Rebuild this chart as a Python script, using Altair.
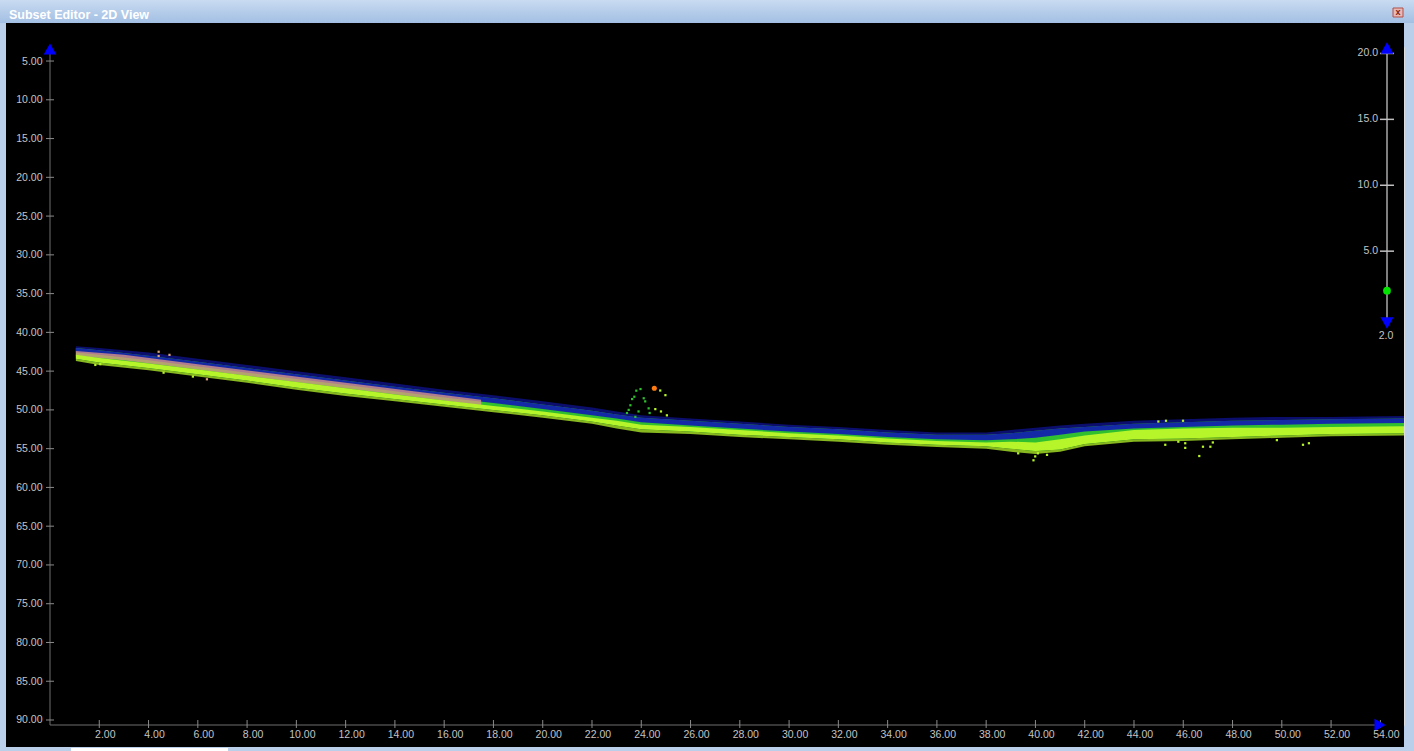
import altair as alt
import pandas as pd

# ---------------- values ----------------
# sounding band (x = distance, depth values), read at stations
x_station = [1.05, 2, 4, 6, 8, 10, 12, 14, 16, 18, 20, 22, 23, 24, 26, 28, 30, 32, 34, 36, 38, 39, 40, 41, 42, 44, 46, 48, 50, 52, 55]
fringe_top = [41.8, 42.0, 42.6, 43.4, 44.2, 45.0, 45.8, 46.6, 47.4, 48.1, 48.9, 49.7, 50.2, 50.7, 51.1, 51.5, 51.9, 52.2, 52.6, 52.9, 52.9, 52.6, 52.3, 52.0, 51.8, 51.4, 51.2, 51.0, 50.9, 50.9, 50.8]
blue_top = [42.0, 42.3, 43.0, 43.8, 44.6, 45.4, 46.2, 47.0, 47.8, 48.5, 49.3, 50.1, 50.6, 51.0, 51.4, 51.8, 52.2, 52.5, 52.9, 53.2, 53.2, 53.0, 52.7, 52.4, 52.2, 51.8, 51.6, 51.4, 51.3, 51.2, 51.1]
blue_bottom = [42.6, 42.9, 43.6, 44.4, 45.2, 46.0, 46.8, 47.6, 48.4, 49.1, 49.9, 50.7, 51.1, 51.6, 52.0, 52.4, 52.8, 53.1, 53.5, 53.8, 53.9, 53.8, 53.6, 53.2, 52.8, 52.4, 52.2, 52.0, 51.9, 51.8, 51.7]
yellow_top = [42.9, 43.3, 44.0, 44.8, 45.6, 46.4, 47.2, 48.0, 48.8, 49.5, 50.2, 51.0, 51.4, 51.9, 52.2, 52.6, 53.0, 53.3, 53.7, 54.0, 54.2, 54.1, 54.2, 53.8, 53.3, 52.6, 52.4, 52.3, 52.3, 52.2, 52.1]
yellow_bottom = [43.4, 43.9, 44.6, 45.4, 46.2, 47.1, 47.9, 48.6, 49.3, 50.0, 50.7, 51.5, 52.0, 52.5, 52.8, 53.2, 53.5, 53.8, 54.2, 54.5, 54.7, 55.0, 55.3, 55.1, 54.4, 53.8, 53.7, 53.5, 53.3, 53.1, 53.0]
fringe_bottom = [43.7, 44.2, 44.9, 45.7, 46.5, 47.4, 48.2, 48.9, 49.6, 50.3, 51.0, 51.8, 52.4, 52.9, 53.1, 53.5, 53.8, 54.1, 54.5, 54.8, 55.0, 55.4, 55.7, 55.4, 54.7, 54.1, 54.0, 53.8, 53.6, 53.4, 53.3]

pink_x = [1.05, 3, 6, 9, 12, 15, 17.5]
pink_top = [42.4, 42.9, 44.1, 45.3, 46.5, 47.7, 48.7]
pink_bottom = [43.0, 43.6, 44.8, 46.0, 47.2, 48.4, 49.4]

spike_x = [23.80, 23.97, 23.72, 23.63, 23.56, 23.49, 23.42, 24.10, 24.16, 24.30, 24.34, 23.89, 23.76]
spike_d = [47.52, 47.31, 48.30, 48.60, 49.40, 50.00, 50.40, 48.50, 48.90, 49.80, 50.40, 50.20, 50.90]

lime_x = [24.77, 24.98, 24.57, 24.80, 25.04, 39.92, 39.99, 39.30, 40.47, 40.10, 45.27, 46.08, 46.08, 45.80, 46.65, 44.99, 45.30, 45.99, 46.80, 47.10, 47.20, 49.80, 50.86, 51.10, 1.84, 2.04, 4.61, 5.80]
lime_d = [47.50, 48.10, 49.90, 50.20, 50.70, 56.50, 56.00, 55.60, 55.80, 55.60, 54.50, 54.30, 54.90, 54.10, 55.95, 51.50, 51.40, 51.40, 54.75, 54.75, 54.20, 53.90, 54.50, 54.30, 44.20, 44.10, 45.20, 45.70]

tan_x = [4.41, 4.41, 4.85, 6.37]
tan_d = [42.50, 43.05, 42.90, 46.05]

orange_x = [24.53]
orange_d = [47.2]

x_ticks = [2, 4, 6, 8, 10, 12, 14, 16, 18, 20, 22, 24, 26, 28, 30, 32, 34, 36, 38, 40, 42, 44, 46, 48, 50, 52, 54]
y_ticks = [5, 10, 15, 20, 25, 30, 35, 40, 45, 50, 55, 60, 65, 70, 75, 80, 85, 90]
scale_ticks = [20.0, 15.0, 10.0, 5.0]
scale_value = [2.0]

TITLE = "Subset Editor - 2D View"

# ---------------- styling ----------------
FONT = "Liberation Sans"
LABEL = "#c4c4c4"
AXIS_LINE = "#6e6e6e"
BLUE = "#1218b4"
GREEN = "#2fbf2f"
PINK = "#e39a86"
LIME = "#b6f52a"

W, H = 1354, 678

xs = alt.Scale(domain=[0, 54.96], nice=False, zero=False)
ys = alt.Scale(domain=[3.19, 90.645], reverse=True, nice=False, zero=False)

xaxis = alt.Axis(values=x_ticks, format=".2f", domain=False, ticks=False, grid=False,
                 labelColor=LABEL, labelFont=FONT, labelFontSize=10.5, labelPadding=4,
                 labelOffset=5.5, labelFlush=False, labelOverlap=False, zindex=1)
yaxis = alt.Axis(values=y_ticks, format=".2f", domain=False, ticks=False, grid=False,
                 labelColor=LABEL, labelFont=FONT, labelFontSize=10.5, labelPadding=8,
                 labelFlush=False, labelOverlap=False, zindex=1)


def X(f):
    return alt.X(f, type="quantitative", scale=xs, axis=xaxis, title="")


def Y(f):
    return alt.Y(f, type="quantitative", scale=ys, axis=yaxis, title="")


one = pd.DataFrame({"k": [0]})
band = pd.DataFrame({"x": x_station, "ft": fringe_top, "bt": blue_top, "bb": blue_bottom,
                     "yt": yellow_top, "yb": yellow_bottom, "fb": fringe_bottom})
pink = pd.DataFrame({"x": pink_x, "t": pink_top, "b": pink_bottom})
spike = pd.DataFrame({"x": spike_x, "d": spike_d})
lime = pd.DataFrame({"x": lime_x, "d": lime_d})
tan = pd.DataFrame({"x": tan_x, "d": tan_d})
orange = pd.DataFrame({"x": orange_x, "d": orange_d})
xt = pd.DataFrame({"x": x_ticks})
yt = pd.DataFrame({"d": y_ticks})

# window decoration
frame = alt.Chart(one).mark_rect(color="black").encode(
    x=alt.value(-44), x2=alt.value(W), y=alt.value(-24), y2=alt.value(700))
titlebar = alt.Chart(one).mark_rect(
    color=alt.Gradient(gradient="linear", x1=0, x2=0, y1=0, y2=1,
                       stops=[alt.GradientStop(color="#c9dbf1", offset=0),
                              alt.GradientStop(color="#a2bfe3", offset=1)])
).encode(x=alt.value(-50), x2=alt.value(1364), y=alt.value(-47), y2=alt.value(-24))
title = alt.Chart(one).mark_text(text=TITLE, align="left", baseline="middle", font=FONT,
                                 fontSize=12.5, fontWeight="bold", color="white").encode(
    x=alt.value(-41), y=alt.value(-32))
closebox = alt.Chart(one).mark_rect(color="#e9b8b4", stroke="#b0504a", strokeWidth=1).encode(
    x=alt.value(1343), x2=alt.value(1353), y=alt.value(-39), y2=alt.value(-30))
closex = alt.Chart(one).mark_text(text="x", align="center", baseline="middle", font=FONT,
                                  fontSize=9, fontWeight="bold", color="#7a2020").encode(
    x=alt.value(1348), y=alt.value(-35))
tab = alt.Chart(one).mark_rect(color="white").encode(
    x=alt.value(21), x2=alt.value(178), y=alt.value(701), y2=alt.value(704))

# data band (speckled fringes drawn translucent)
blue_fringe = alt.Chart(band).mark_area(color=BLUE, opacity=0.6, clip=True).encode(
    x=X("x"), y=Y("ft"), y2="bt")
lime_fringe = alt.Chart(band).mark_area(color=LIME, opacity=0.75, clip=True).encode(
    x=X("x"), y=Y("yb"), y2="fb")
green_area = alt.Chart(band).mark_area(color=GREEN, clip=True).encode(
    x=X("x"), y=Y("bt"), y2="yb")
blue_area = alt.Chart(band).mark_area(color=BLUE, opacity=0.9, clip=True).encode(
    x=X("x"), y=Y("bt"), y2="bb")
pink_area = alt.Chart(pink).mark_area(color=PINK, opacity=0.75, clip=True).encode(
    x=X("x"), y=Y("t"), y2="b")
lime_area = alt.Chart(band).mark_area(color=LIME, clip=True).encode(
    x=X("x"), y=Y("yt"), y2="yb")

spike_pts = alt.Chart(spike).mark_square(size=5, color=GREEN, opacity=1).encode(x=X("x"), y=Y("d"))
lime_pts = alt.Chart(lime).mark_square(size=5, color=LIME, opacity=1).encode(x=X("x"), y=Y("d"))
tan_pts = alt.Chart(tan).mark_square(size=5, color="#d9a47e", opacity=1).encode(x=X("x"), y=Y("d"))
orange_pt = alt.Chart(orange).mark_circle(size=26, color="#ff7a10", opacity=1).encode(x=X("x"), y=Y("d"))

# axes lines, crossing ticks, arrows
yline = alt.Chart(one).mark_rule(color=AXIS_LINE).encode(
    x=alt.value(0), y=alt.value(2), y2=alt.value(H))
xline = alt.Chart(one).mark_rule(color=AXIS_LINE).encode(
    x=alt.value(0), x2=alt.value(1330), y=alt.value(H))
yticks = alt.Chart(yt).mark_rule(color="#8a8a8a").encode(
    x=alt.value(-4), x2=alt.value(4), y=Y("d"))
xticks = alt.Chart(xt).mark_rule(color="#8a8a8a").encode(
    x=X("x"), y=alt.value(673), y2=alt.value(681))
arrow_up = alt.Chart(one).mark_point(shape="triangle-up", filled=True, size=160,
                                     color="#0000ff", opacity=1).encode(
    x=alt.value(0), y=alt.value(2))
arrow_right = alt.Chart(one).mark_point(shape="triangle-right", filled=True, size=160,
                                        color="#0000ff", opacity=1).encode(
    x=alt.value(1330), y=alt.value(H))

depth_layer = alt.layer(frame, titlebar, title, closebox, closex, tab,
                        blue_fringe, lime_fringe,
                        green_area, blue_area, pink_area, lime_area,
                        spike_pts, lime_pts, tan_pts, orange_pt,
                        yline, xline, yticks, xticks, arrow_up, arrow_right)

# right-hand scale
rs = alt.Scale(domain=[-30.95, 20.49], nice=False, zero=False)
st = pd.DataFrame({"v": scale_ticks})
sv = pd.DataFrame({"v": scale_value})

s_line = alt.Chart(one).mark_rule(color="#a8a8a8", strokeWidth=1.5).encode(
    x=alt.value(1337), y=alt.value(1), y2=alt.value(277))
s_ticks = alt.Chart(st).mark_rule(color="#c0c0c0", strokeWidth=1.5).encode(
    x=alt.value(1330), x2=alt.value(1344), y=alt.Y("v:Q", scale=rs, axis=None))
s_labels = alt.Chart(st).mark_text(align="right", baseline="middle", font=FONT,
                                   fontSize=10.5, color=LABEL).encode(
    x=alt.value(1328), y=alt.Y("v:Q", scale=rs, axis=None), text=alt.Text("v:Q", format=".1f"))
s_dot = alt.Chart(sv).mark_circle(size=60, color="#00e400", opacity=1).encode(
    x=alt.value(1337), y=alt.Y("v:Q", scale=rs, axis=None))
s_val = alt.Chart(sv).mark_text(align="center", baseline="middle", font=FONT, fontSize=10.5,
                                color=LABEL, dy=45).encode(
    x=alt.value(1336), y=alt.Y("v:Q", scale=rs, axis=None), text=alt.Text("v:Q", format=".1f"))
s_up = alt.Chart(one).mark_point(shape="triangle-up", filled=True, size=170,
                                 color="#0000ff", opacity=1).encode(
    x=alt.value(1337), y=alt.value(1))
s_down = alt.Chart(one).mark_point(shape="triangle-down", filled=True, size=170,
                                   color="#0000ff", opacity=1).encode(
    x=alt.value(1337), y=alt.value(276))

scale_layer = alt.layer(s_line, s_ticks, s_labels, s_dot, s_val, s_up, s_down)

chart = alt.layer(depth_layer, scale_layer).resolve_scale(y="independent").properties(
    width=W, height=H,
    autosize=alt.AutoSizeParams(type="none"),
    padding={"left": 50, "top": 47, "right": 10, "bottom": 26},
    background="#b9cfea",
).configure_view(strokeWidth=0).configure(font=FONT)

chart.save("out.html", embed_options={"renderer": "svg", "actions": False})
